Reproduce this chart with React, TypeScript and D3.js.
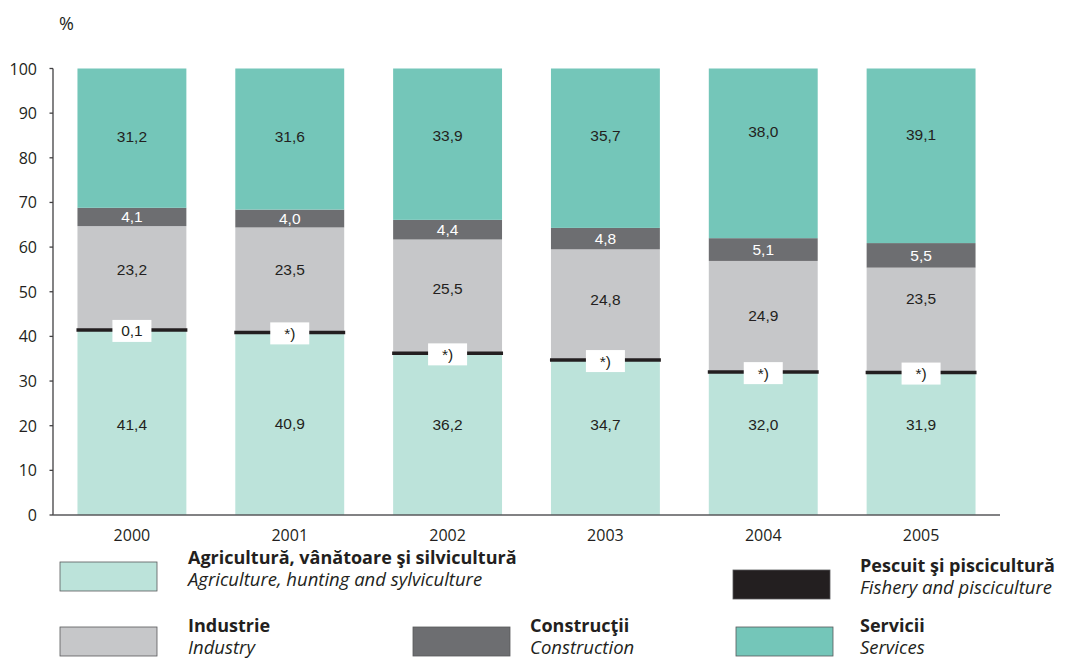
import React from "react"
import * as d3 from "d3"

// ---------- Data ----------
const years = ["2000", "2001", "2002", "2003", "2004", "2005"]

const agriculture = [41.4, 40.9, 36.2, 34.7, 32.0, 31.9]
const fishery = [0.1, 0, 0, 0, 0, 0]
const industry = [23.2, 23.5, 25.5, 24.8, 24.9, 23.5]
const construction = [4.1, 4.0, 4.4, 4.8, 5.1, 5.5]
const services = [31.2, 31.6, 33.9, 35.7, 38.0, 39.1]

const fisheryLabels = ["0,1", "*)", "*)", "*)", "*)", "*)"]

// where the printed value labels sit (in % units)
const agricultureLabelAt = [20.2, 20.4, 20.2, 20.2, 20.2, 20.2]
const industryLabelAt = [54.9, 54.9, 50.8, 48.2, 44.6, 48.6]
const servicesLabelAt = [84.8, 84.8, 85.0, 85.0, 85.8, 85.3]

const yTicks = [0, 10, 20, 30, 40, 50, 60, 70, 80, 90, 100]

const colors = {
    agriculture: "#bce3da",
    fishery: "#231f20",
    industry: "#c6c7c9",
    construction: "#6d6e71",
    services: "#74c6b9",
}

const fmt = (v: number) => v.toFixed(1).replace(".", ",")

// ---------- Component ----------
const W = 1065
const H = 659
const axisFont = "'Open Sans', 'Noto Sans', sans-serif"
const valueFont = "'Liberation Sans', Arial, sans-serif"
const ink = "#231f20"

export default function App() {
    const x = d3.scaleBand<string>()
        .domain(years)
        .range([53, 1000])
        .paddingInner(0.31)
        .paddingOuter(0.155)

    const y = d3.scaleLinear().domain([0, 100]).range([515, 68.5])

    const bw = x.bandwidth()

    const stackRows = years.map((yr, i) => ({
        year: yr,
        agriculture: agriculture[i],
        fishery: fishery[i],
        industry: industry[i],
        construction: construction[i],
        services: services[i],
    }))
    const keys = ["agriculture", "fishery", "industry", "construction", "services"] as const
    const series = d3.stack<any>().keys(keys as any)(stackRows)
    const byKey: Record<string, d3.Series<any, string>> = {}
    series.forEach(s => { byKey[s.key] = s })

    const legendItems = [
        { key: "agriculture", sx: 60, sy: 562, tx: 188, ty: 564, ro: "Agricultură, vânătoare şi silvicultură", en: "Agriculture, hunting and sylviculture" },
        { key: "fishery", sx: 733, sy: 570, tx: 860, ty: 572, ro: "Pescuit şi piscicultură", en: "Fishery and pisciculture" },
        { key: "industry", sx: 60, sy: 627, tx: 188, ty: 632, ro: "Industrie", en: "Industry" },
        { key: "construction", sx: 413, sy: 627, tx: 530, ty: 632, ro: "Construcţii", en: "Construction" },
        { key: "services", sx: 736, sy: 627, tx: 860, ty: 632, ro: "Servicii", en: "Services" },
    ]

    return (
        <svg width={W} height={H} style={{ position: "absolute", left: 0, top: 0, background: "#fff" }}>
            {/* % label */}
            <text x={59} y={30} fontFamily={axisFont} fontSize={18} fill={ink}>%</text>

            {/* bars */}
            {(["agriculture", "industry", "construction", "services"] as const).map(k => (
                <g key={k}>
                    {byKey[k].map((d, i) => (
                        <rect
                            key={i}
                            x={x(years[i])}
                            width={bw}
                            y={y(d[1])}
                            height={y(d[0]) - y(d[1])}
                            fill={colors[k]}
                        />
                    ))}
                </g>
            ))}

            {/* fishery: thin black line at the top of agriculture */}
            {byKey["fishery"].map((d, i) => {
                const yy = y((d[0] + d[1]) / 2)
                const cx = (x(years[i]) ?? 0) + bw / 2
                return (
                    <g key={"f" + i}>
                        <line x1={(x(years[i]) ?? 0) - 1} x2={(x(years[i]) ?? 0) + bw + 1} y1={yy} y2={yy} stroke={colors.fishery} strokeWidth={3.5} />
                        <rect x={cx - 19.5} y={yy - 10} width={39} height={22} fill="#fff" />
                        <text x={cx} y={yy + 1} textAnchor="middle" dominantBaseline="central" fontFamily={valueFont} fontSize={15.5} fill={ink}>{fisheryLabels[i]}</text>
                    </g>
                )
            })}

            {/* value labels */}
            {years.map((yr, i) => {
                const cx = (x(yr) ?? 0) + bw / 2
                const c = byKey["construction"][i]
                return (
                    <g key={"v" + yr} fontFamily={valueFont} fontSize={15.5} textAnchor="middle">
                        <text x={cx} y={y(agricultureLabelAt[i])} dominantBaseline="central" fill={ink}>{fmt(agriculture[i])}</text>
                        <text x={cx} y={y(industryLabelAt[i])} dominantBaseline="central" fill={ink}>{fmt(industry[i])}</text>
                        <text x={cx} y={y((c[0] + c[1]) / 2)} dominantBaseline="central" fill="#fff">{fmt(construction[i])}</text>
                        <text x={cx} y={y(servicesLabelAt[i])} dominantBaseline="central" fill={ink}>{fmt(services[i])}</text>
                    </g>
                )
            })}

            {/* y axis */}
            <line x1={53} x2={53} y1={y(100)} y2={y(0)} stroke="#414042" strokeWidth={1.3} />
            {yTicks.map(t => (
                <g key={t}>
                    <line x1={49.5} x2={53} y1={y(t)} y2={y(t)} stroke="#414042" strokeWidth={1.3} />
                    <text x={37} y={y(t)} textAnchor="end" dominantBaseline="central" fontFamily={axisFont} fontSize={16} fill={ink}>{t}</text>
                </g>
            ))}

            {/* x axis */}
            <line x1={53} x2={1000} y1={y(0)} y2={y(0)} stroke="#58595b" strokeWidth={1.3} />
            {years.map(yr => (
                <text key={yr} x={(x(yr) ?? 0) + bw / 2} y={541} textAnchor="middle" fontFamily={axisFont} fontSize={16} fill={ink}>{yr}</text>
            ))}

            {/* legend */}
            {legendItems.map(it => (
                <g key={it.key}>
                    <rect x={it.sx} y={it.sy} width={97} height={29} fill={colors[it.key as keyof typeof colors]} stroke="#58595b" strokeWidth={0.8} />
                    <text x={it.tx} y={it.ty} fontFamily={axisFont} fontWeight={700} fontSize={18} fill={ink}>{it.ro}</text>
                    <text x={it.tx} y={it.ty + 22} fontFamily={axisFont} fontStyle="italic" fontSize={18.5} fill={ink}>{it.en}</text>
                </g>
            ))}
        </svg>
    )
}
